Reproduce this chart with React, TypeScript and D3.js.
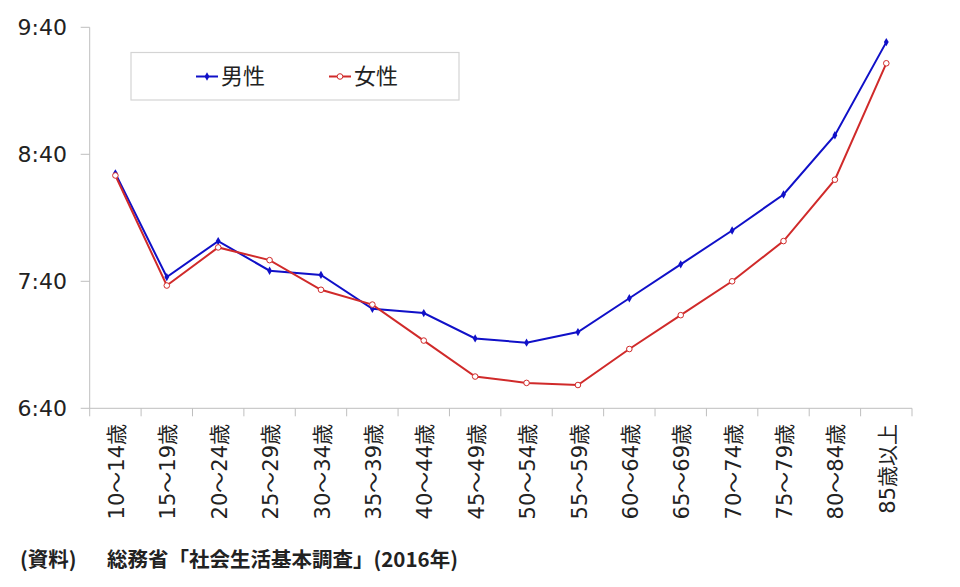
import React from "react";
import * as d3 from "d3";

const categories = [
  "10～14歳", "15～19歳", "20～24歳", "25～29歳", "30～34歳", "35～39歳",
  "40～44歳", "45～49歳", "50～54歳", "55～59歳", "60～64歳", "65～69歳",
  "70～74歳", "75～79歳", "80～84歳", "85歳以上",
];
const maleTimes = ["8:31", "7:42", "7:59", "7:45", "7:43", "7:27", "7:25", "7:13", "7:11", "7:16", "7:32", "7:48", "8:04", "8:21", "8:49", "9:33"];
const femaleTimes = ["8:30", "7:38", "7:56", "7:50", "7:36", "7:29", "7:12", "6:55", "6:52", "6:51", "7:08", "7:24", "7:40", "7:59", "8:28", "9:23"];
const yTickLabels = ["6:40", "7:40", "8:40", "9:40"];
const seriesNames = ["男性", "女性"];
const sourceLabel = "(資料)";
const sourceText = "総務省「社会生活基本調査」(2016年)";

const toMin = (s: string) => {
  const [h, m] = s.split(":").map(Number);
  return h * 60 + m;
};
const fmt = (v: number) => `${Math.floor(v / 60)}:${String(v % 60).padStart(2, "0")}`;

const W = 960;
const H = 587;
const FONT = "'DejaVu Sans', 'Noto Sans CJK JP', sans-serif";
const CJK = "'Noto Sans CJK JP', sans-serif";
const AXIS = "#bfbfbf";
const BLUE = "#1010c8";
const RED = "#d02a2a";

export default function App() {
  const x = d3.scaleBand<string>().domain(categories).range([89.7, 912]);
  const yTicks = yTickLabels.map(toMin);
  const y = d3.scaleLinear().domain([yTicks[0], yTicks[yTicks.length - 1]]).range([408.3, 27.3]);
  const cx = (c: string) => (x(c) ?? 0) + x.bandwidth() / 2;

  const series = [
    { name: seriesNames[0], values: maleTimes.map(toMin), color: BLUE, marker: "diamond" },
    { name: seriesNames[1], values: femaleTimes.map(toMin), color: RED, marker: "circle" },
  ];

  const line = d3
    .line<number>()
    .x((_, i) => cx(categories[i]))
    .y((v) => y(v));

  const diamond = d3.symbol(d3.symbolDiamond, 20)();

  const marker = (type: string, color: string, px: number, py: number, key: any) =>
    type === "diamond" ? (
      <path key={key} d={diamond!} transform={`translate(${px},${py})`} fill={color} />
    ) : (
      <circle key={key} cx={px} cy={py} r={2.8} fill="#fff" stroke={color} strokeWidth={1} />
    );

  const x0 = x.range()[0];
  const x1 = x.range()[1];
  const yBase = y.range()[0];

  const legendItems = [
    { lx: 196, tx: 221 },
    { lx: 329, tx: 354 },
  ];

  return (
    <svg
      width={W}
      height={H}
      style={{ position: "absolute", left: 0, top: 0, background: "#fff" }}
    >
      <rect x={0} y={0} width={W} height={H} fill="#fff" />
      {/* y axis */}
      <line x1={x0} x2={x0} y1={y.range()[1]} y2={yBase} stroke={AXIS} strokeWidth={1} />
      {yTicks.map((t) => (
        <g key={t}>
          <line x1={x0 - 9} x2={x0} y1={y(t)} y2={y(t)} stroke={AXIS} strokeWidth={1} />
          <text
            x={67}
            y={y(t)}
            dy="0.36em"
            textAnchor="end"
            fontFamily={FONT}
            fontSize={22}
            fill="#222"
          >
            {fmt(t)}
          </text>
        </g>
      ))}
      {/* x axis */}
      <line x1={x0} x2={x1} y1={yBase} y2={yBase} stroke={AXIS} strokeWidth={1} />
      {[...categories.map((c) => x(c) ?? 0), x1].map((px, i) => (
        <line key={i} x1={px} x2={px} y1={yBase} y2={yBase + 8} stroke={AXIS} strokeWidth={1} />
      ))}
      {categories.map((c) => (
        <text
          key={c}
          transform={`translate(${cx(c) + 1},${424}) rotate(-90)`}
          textAnchor="end"
          dy="0.36em"
          fontFamily={FONT}
          fontSize={21}
          fill="#222"
        >
          {c}
        </text>
      ))}
      {/* series */}
      {series.map((s) => (
        <g key={s.name}>
          <path d={line(s.values) ?? ""} fill="none" stroke={s.color} strokeWidth={2} />
          {s.values.map((v, i) => marker(s.marker, s.color, cx(categories[i]), y(v), i))}
        </g>
      ))}
      {/* legend */}
      <rect x={131} y={52.5} width={328} height={47.5} fill="#fff" stroke="#d4d4d4" strokeWidth={1.2} />
      {series.map((s, i) => (
        <g key={s.name}>
          <line
            x1={legendItems[i].lx}
            x2={legendItems[i].lx + 22}
            y1={76.5}
            y2={76.5}
            stroke={s.color}
            strokeWidth={2}
          />
          {marker(s.marker, s.color, legendItems[i].lx + 11, 76.5, "m")}
          <text
            x={legendItems[i].tx}
            y={76.5}
            dy="0.36em"
            fontFamily={CJK}
            fontSize={22}
            fill="#222"
          >
            {s.name}
          </text>
        </g>
      ))}
      {/* source */}
      <text x={20} y={567} fontFamily={CJK} fontWeight="bold" fontSize={20.5} fill="#222">
        {sourceLabel}
      </text>
      <text x={107} y={567} fontFamily={CJK} fontWeight="bold" fontSize={20.5} fill="#222">
        {sourceText}
      </text>
    </svg>
  );
}
